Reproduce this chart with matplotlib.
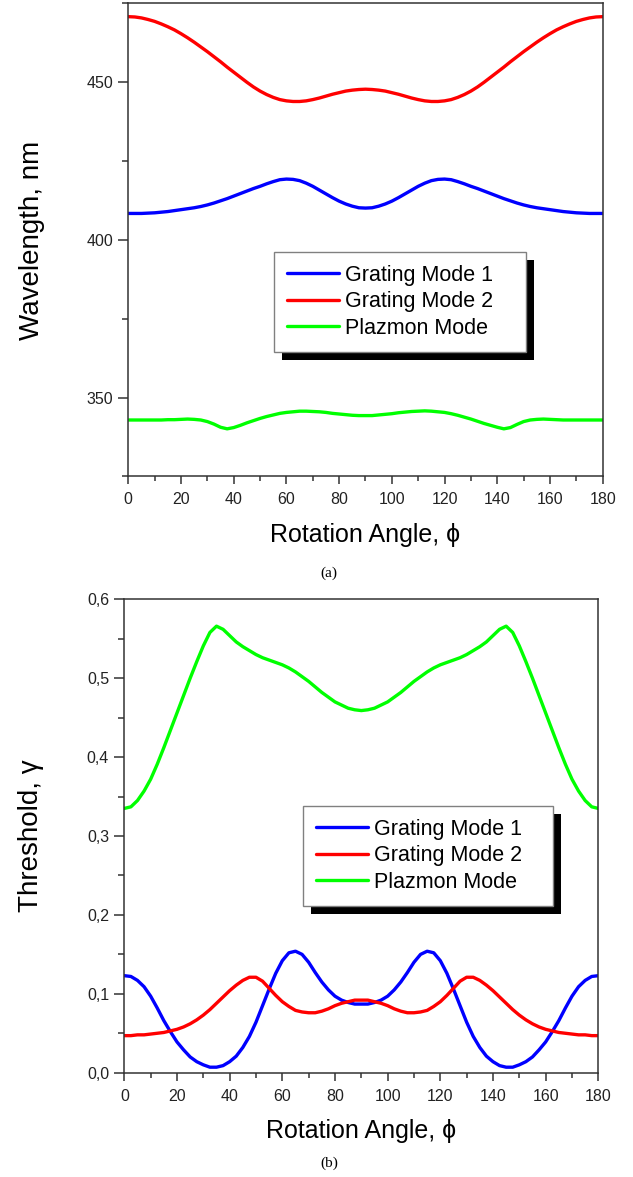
import numpy as np
import matplotlib.pyplot as plt
from matplotlib.patches import Rectangle
from matplotlib.ticker import MultipleLocator, FuncFormatter

plt.rcParams['font.family'] = ['Liberation Sans', 'DejaVu Sans']

# rotation angle grid, degrees
phi = np.arange(0, 180.1, 2.5)

# (a) resonance wavelength, nm
wl_grating1 = [408.4, 408.4, 408.4, 408.5, 408.6, 408.8, 409.0, 409.3, 409.6, 409.9,
               410.2, 410.6, 411.1, 411.7, 412.4, 413.1, 413.9, 414.7, 415.5, 416.3,
               417.0, 417.8, 418.5, 419.1, 419.3, 419.2, 418.8, 418.0, 417.0, 415.8,
               414.6, 413.4, 412.3, 411.4, 410.7, 410.2, 410.1,
               410.2, 410.7, 411.4, 412.3, 413.4, 414.6, 415.8, 417.0, 418.0, 418.8,
               419.2, 419.3, 419.1, 418.5, 417.8, 417.0, 416.3, 415.5, 414.7, 413.9,
               413.1, 412.4, 411.7, 411.1, 410.6, 410.2, 409.9, 409.6, 409.3, 409.0,
               408.8, 408.6, 408.5, 408.4, 408.4, 408.4]
wl_grating2 = [470.8, 470.7, 470.4, 469.9, 469.3, 468.5, 467.6, 466.6, 465.4, 464.1,
               462.7, 461.2, 459.7, 458.1, 456.5, 454.8, 453.2, 451.6, 450.0, 448.5,
               447.2, 446.1, 445.2, 444.5, 444.1, 443.9, 443.9, 444.1, 444.5, 445.0,
               445.6, 446.2, 446.7, 447.2, 447.5, 447.7, 447.8,
               447.7, 447.5, 447.2, 446.7, 446.2, 445.6, 445.0, 444.5, 444.1, 443.9,
               443.9, 444.1, 444.5, 445.2, 446.1, 447.2, 448.5, 450.0, 451.6, 453.2,
               454.8, 456.5, 458.1, 459.7, 461.2, 462.7, 464.1, 465.4, 466.6, 467.6,
               468.5, 469.3, 469.9, 470.4, 470.7, 470.8]
wl_plazmon = [342.9, 342.9, 342.9, 342.9, 342.9, 342.9, 343.0, 343.0, 343.1, 343.2,
              343.1, 342.9, 342.4, 341.6, 340.6, 340.1, 340.5, 341.2, 342.0, 342.7,
              343.4, 344.0, 344.5, 345.0, 345.3, 345.5, 345.7, 345.7, 345.6, 345.5,
              345.3, 345.0, 344.8, 344.6, 344.4, 344.3, 344.3,
              344.3, 344.5, 344.7, 344.9, 345.2, 345.4, 345.6, 345.7, 345.8, 345.7,
              345.5, 345.3, 344.9, 344.4, 343.8, 343.2, 342.5, 341.8, 341.2, 340.6,
              340.1, 340.5, 341.5, 342.4, 342.9, 343.1, 343.2, 343.1, 343.0, 342.9,
              342.9, 342.9, 342.9, 342.9, 342.9, 342.9]

# (b) lasing threshold
th_grating1 = [0.123, 0.122, 0.117, 0.109, 0.097, 0.082, 0.066, 0.052, 0.039, 0.029,
               0.020, 0.014, 0.010, 0.007, 0.007, 0.009, 0.014, 0.021, 0.032, 0.046,
               0.064, 0.085, 0.106, 0.126, 0.142, 0.152, 0.154, 0.150, 0.140, 0.127,
               0.115, 0.105, 0.097, 0.092, 0.089, 0.087, 0.087,
               0.087, 0.089, 0.092, 0.097, 0.105, 0.115, 0.127, 0.140, 0.150, 0.154,
               0.152, 0.142, 0.126, 0.106, 0.085, 0.064, 0.046, 0.032, 0.021, 0.014,
               0.009, 0.007, 0.007, 0.010, 0.014, 0.020, 0.029, 0.039, 0.052, 0.066,
               0.082, 0.097, 0.109, 0.117, 0.122, 0.123]
th_grating2 = [0.047, 0.047, 0.048, 0.048, 0.049, 0.050, 0.051, 0.053, 0.055, 0.058,
               0.062, 0.067, 0.073, 0.080, 0.088, 0.096, 0.104, 0.111, 0.117, 0.121,
               0.121, 0.116, 0.107, 0.098, 0.090, 0.084, 0.079, 0.077, 0.076, 0.076,
               0.078, 0.081, 0.085, 0.088, 0.090, 0.092, 0.092,
               0.092, 0.090, 0.088, 0.085, 0.081, 0.078, 0.076, 0.076, 0.077, 0.079,
               0.084, 0.090, 0.098, 0.107, 0.116, 0.121, 0.121, 0.117, 0.111, 0.104,
               0.096, 0.088, 0.080, 0.073, 0.067, 0.062, 0.058, 0.055, 0.053, 0.051,
               0.050, 0.049, 0.048, 0.048, 0.047, 0.047]
th_plazmon = [0.335, 0.337, 0.345, 0.357, 0.372, 0.391, 0.412, 0.434, 0.456, 0.478,
              0.500, 0.521, 0.541, 0.558, 0.566, 0.562, 0.554, 0.546, 0.540, 0.535,
              0.530, 0.526, 0.523, 0.520, 0.517, 0.513, 0.508, 0.502, 0.496, 0.489,
              0.482, 0.476, 0.470, 0.466, 0.462, 0.460, 0.459,
              0.460, 0.462, 0.466, 0.470, 0.476, 0.482, 0.489, 0.496, 0.502, 0.508,
              0.513, 0.517, 0.520, 0.523, 0.526, 0.530, 0.535, 0.540, 0.546, 0.554,
              0.562, 0.566, 0.558, 0.541, 0.521, 0.500, 0.478, 0.456, 0.434, 0.412,
              0.391, 0.372, 0.357, 0.345, 0.337, 0.335]

labels = ["Grating Mode 1", "Grating Mode 2", "Plazmon Mode"]
colors = ["#0000ff", "#ff0000", "#00ff00"]

fig = plt.figure(figsize=(6.33, 11.77), dpi=100)
ax_a = fig.add_axes([0.2027, 0.5952, 0.7494, 0.4019])
ax_b = fig.add_axes([0.1964, 0.0886, 0.7488, 0.4022])


def style_axes(ax):
    for sp in ax.spines.values():
        sp.set_color("#333333")
        sp.set_linewidth(1.1)
    ax.tick_params(which="both", direction="out", top=False, right=False,
                   colors="#333333", labelcolor="#222222", labelsize=11.5)
    ax.tick_params(axis="y", which="major", length=7, width=1.1, pad=4)
    ax.tick_params(axis="y", which="minor", length=4, width=1.1)
    ax.tick_params(axis="x", which="major", length=5.5, width=1.1, pad=6)
    ax.tick_params(axis="x", which="minor", length=3.5, width=1.1)
    ax.set_xlim(0, 180)
    ax.xaxis.set_major_locator(MultipleLocator(20))
    ax.xaxis.set_minor_locator(MultipleLocator(10))
    ax.set_xlabel("Rotation Angle, \u03d5", fontsize=18, labelpad=11)


def add_legend(ax, x0, y_top, width):
    leg = ax.legend(loc="upper left", bbox_to_anchor=(x0, 0, width, y_top),
                    mode="expand", borderaxespad=0,
                    fontsize=15.5, handlelength=2.45, handletextpad=0.25,
                    labelspacing=0.25, borderpad=0.6, fancybox=False,
                    framealpha=1, edgecolor="#808080")
    leg.get_frame().set_linewidth(1.0)
    leg.set_zorder(6)
    return leg


for ax, series in ((ax_a, (wl_grating1, wl_grating2, wl_plazmon)),
                   (ax_b, (th_grating1, th_grating2, th_plazmon))):
    for y, lab, c in zip(series, labels, colors):
        ax.plot(phi, y, color=c, lw=2.4, label=lab, solid_capstyle="round")
    style_axes(ax)

ax_a.set_ylim(325, 475)
ax_a.yaxis.set_major_locator(MultipleLocator(50))
ax_a.yaxis.set_minor_locator(MultipleLocator(25))
ax_a.set_ylabel("Wavelength, nm", fontsize=20)
ax_a.yaxis.set_label_coords(-0.176, 0.5)

ax_b.set_ylim(0, 0.6)
ax_b.yaxis.set_major_locator(MultipleLocator(0.1))
ax_b.yaxis.set_minor_locator(MultipleLocator(0.05))
ax_b.yaxis.set_major_formatter(FuncFormatter(lambda v, p: f"{v:.1f}".replace(".", ",")))
ax_b.set_ylabel("Threshold, \u03b3", fontsize=20)
ax_b.yaxis.set_label_coords(-0.169, 0.5)

legs = [(ax_a, add_legend(ax_a, 0.3065, 0.4746, 0.531)),
        (ax_b, add_legend(ax_b, 0.3764, 0.5634, 0.528))]

# solid black drop shadow behind each legend box
fig.canvas.draw()
inv = fig.transFigure.inverted()
for ax, leg in legs:
    bb = leg.get_frame().get_window_extent().transformed(inv)
    dx, dy = 8 / 633, 8 / 1177
    ax.add_patch(Rectangle((bb.x0 + dx, bb.y0 - dy), bb.width, bb.height,
                           transform=fig.transFigure, facecolor="black",
                           edgecolor="none", zorder=5.5, clip_on=False))

fig.text(0.52, 1 - 573 / 1177, "(a)", ha="center", va="center",
         fontsize=11, family="Liberation Serif")
fig.text(0.52, 1 - 1163 / 1177, "(b)", ha="center", va="center",
         fontsize=11, family="Liberation Serif")

fig.savefig("out.png", dpi=100)
